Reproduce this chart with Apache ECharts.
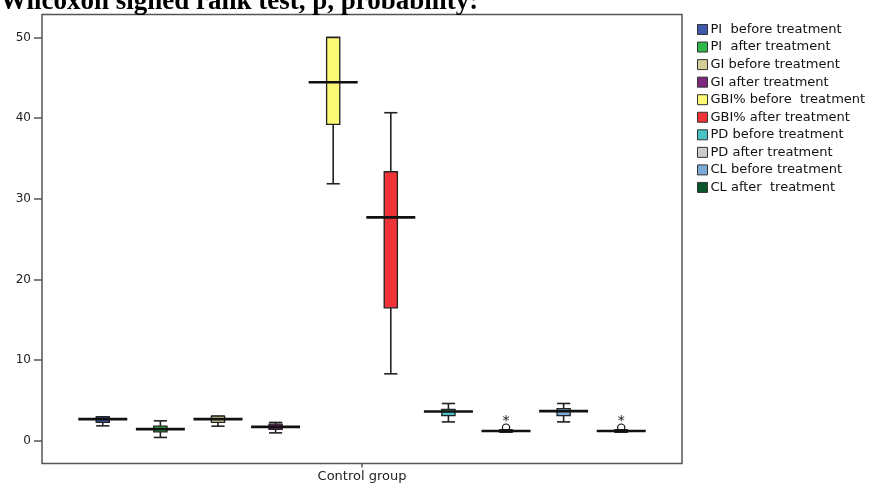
<!DOCTYPE html>
<html><head><meta charset="utf-8">
<script src="https://cdn.jsdelivr.net/npm/echarts@6/dist/echarts.min.js"></script>
<style>html,body{margin:0;padding:0;background:#fff}#c{width:879px;height:484px}</style>
</head><body><div id="c"></div>
<script>
// ---- data ----
const seriesNames = ['PI  before treatment', 'PI  after treatment', 'GI before treatment', 'GI after treatment',
  'GBI% before  treatment', 'GBI% after treatment', 'PD before treatment', 'PD after treatment',
  'CL before treatment', 'CL after  treatment'];
const minValues    = [1.84, 0.40, 1.80, 0.97, 31.86,  8.29, 2.33, 1.05, 2.33, 1.05];
const q1Values     = [2.26, 1.09, 2.26, 1.39, 39.23, 16.48, 3.10, 1.10, 3.10, 1.10];
const medianValues = [2.67, 1.43, 2.67, 1.71, 44.44, 27.69, 3.62, 1.20, 3.66, 1.20];
const q3Values     = [2.95, 1.80, 3.04, 2.05, 50.00, 33.35, 3.88, 1.30, 3.97, 1.30];
const maxValues    = [2.95, 2.46, 3.04, 2.26, 50.00, 40.67, 4.61, 1.35, 4.61, 1.35];
const outlierValues = [null, null, null, null, null, null, null, 1.62, null, 1.62];
const extremeValues = [null, null, null, null, null, null, null, 2.76, null, 2.76];
const categoryLabel = 'Control group';
const yTickValues = [0, 10, 20, 30, 40, 50];
const titleText = 'Wilcoxon signed rank test, p, probability:';

// ---- styles ----
const boxColors = ['#3E58AC', '#2EB848', '#D3CE97', '#7C287D', '#FBF873', '#EF3338', '#48C2C5', '#CCCCCC', '#7AAAD5', '#0A562C'];

function renderBox(params, api) {
  const x = api.value(0);
  const pMin = api.coord([x, api.value(1)]);
  const pQ1 = api.coord([x, api.value(2)]);
  const pMed = api.coord([x, api.value(3)]);
  const pQ3 = api.coord([x, api.value(4)]);
  const pMax = api.coord([x, api.value(5)]);
  const cx = pMed[0];
  const hb = 6.6, hm = 24.5;
  const stroke = '#222';
  return {
    type: 'group', children: [
      { type: 'line', shape: { x1: cx, y1: pMin[1], x2: cx, y2: pQ1[1] }, style: { stroke, lineWidth: 1.6 } },
      { type: 'line', shape: { x1: cx, y1: pQ3[1], x2: cx, y2: pMax[1] }, style: { stroke, lineWidth: 1.6 } },
      { type: 'line', shape: { x1: cx - hb, y1: pMin[1], x2: cx + hb, y2: pMin[1] }, style: { stroke, lineWidth: 1.6 } },
      { type: 'line', shape: { x1: cx - hb, y1: pMax[1], x2: cx + hb, y2: pMax[1] }, style: { stroke, lineWidth: 1.6 } },
      { type: 'rect', shape: { x: cx - hb, y: pQ3[1], width: 2 * hb, height: pQ1[1] - pQ3[1] },
        style: { fill: api.visual('color'), stroke: '#222', lineWidth: 1.3 } },
      { type: 'line', shape: { x1: cx - hm, y1: pMed[1], x2: cx + hm, y2: pMed[1] }, style: { stroke: '#111', lineWidth: 2.6 } }
    ]
  };
}

function renderOutlier(params, api) {
  const x = api.value(0);
  const pO = api.coord([x, api.value(1)]);
  const pE = api.coord([x, api.value(2)]);
  return {
    type: 'group', children: [
      { type: 'circle', shape: { cx: pO[0], cy: pO[1], r: 3.6 }, style: { fill: 'none', stroke: '#111', lineWidth: 1.2 } },
      { type: 'text', x: pE[0], y: pE[1] + 3, style: { text: '*', font: '14px "DejaVu Sans"', fill: '#111', align: 'center', verticalAlign: 'middle' } }
    ]
  };
}

const series = seriesNames.map((name, i) => ({
  type: 'custom', name, renderItem: renderBox, silent: true,
  encode: { x: 0, y: [1, 2, 3, 4, 5] },
  itemStyle: { color: boxColors[i] },
  data: [[i + 1, minValues[i], q1Values[i], medianValues[i], q3Values[i], maxValues[i]]]
}));
const outlierData = [];
outlierValues.forEach((v, i) => { if (v !== null) outlierData.push([i + 1, v, extremeValues[i]]); });
series.push({ type: 'custom', name: 'outliers', renderItem: renderOutlier, silent: true,
  encode: { x: 0, y: [1, 2] }, data: outlierData, z: 5 });

const chart = echarts.init(document.getElementById('c'), null, { renderer: 'canvas' });
chart.setOption({
  animation: false,
  backgroundColor: '#fff',
  graphic: [{ type: 'text', left: 0, top: -11, style: { text: titleText, font: 'bold 27px "Liberation Serif"', fill: '#000' } }],
  legend: {
    data: seriesNames, orient: 'vertical', left: 692, top: 18,
    itemWidth: 10, itemHeight: 10, itemGap: 4.55, icon: 'rect',
    itemStyle: { borderColor: '#333', borderWidth: 1 },
    textStyle: { fontFamily: 'DejaVu Sans', fontSize: 13, color: '#111', lineHeight: 10, padding: [0, 0, 0, -2] },
    selectedMode: false
  },
  grid: { left: 42, top: 14.5, width: 640, height: 449, show: true, borderColor: '#555', borderWidth: 1.5, containLabel: false },
  xAxis: {
    type: 'value', min: -0.055, max: 11.055,
    axisLine: { show: false, onZero: false }, splitLine: { show: false },
    axisTick: { show: true, length: 4, customValues: [5.5], lineStyle: { color: '#555', width: 1.5 } },
    axisLabel: { customValues: [5.5], formatter: () => categoryLabel, margin: 7,
      fontFamily: 'DejaVu Sans', fontSize: 13, color: '#222' }
  },
  yAxis: {
    type: 'value', min: -2.83, max: 52.85,
    axisLine: { show: false, onZero: false }, splitLine: { show: false },
    axisTick: { show: true, length: 8, customValues: yTickValues, lineStyle: { color: '#555', width: 1.5 } },
    axisLabel: { customValues: yTickValues, margin: 11, fontFamily: 'DejaVu Sans', fontSize: 12, color: '#222' }
  },
  series
});
</script></body></html>
